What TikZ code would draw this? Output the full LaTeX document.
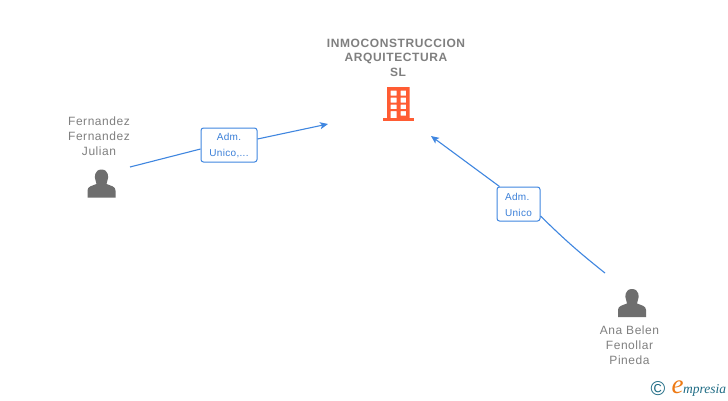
\documentclass[tikz,border=0pt]{standalone}
\usepackage{fontspec}
\setmainfont{Liberation Sans}
\newfontfamily\namefont[LetterSpace=4.5]{Liberation Sans}
\newfontfamily\titlefont[LetterSpace=5]{Liberation Sans Bold}
\newfontfamily\edgefont[LetterSpace=3]{Liberation Sans}
\newfontfamily\logofont{Liberation Serif Italic}
\usetikzlibrary{arrows.meta}
\definecolor{linkblue}{HTML}{3F86E0}
\definecolor{labelblue}{HTML}{3A7FD8}
\definecolor{namegray}{HTML}{808080}
\definecolor{titlegray}{HTML}{7F7F7F}
\definecolor{persongray}{HTML}{6E6E6E}
\definecolor{buildorange}{HTML}{FF5C33}
\definecolor{logoteal}{HTML}{1F6C85}
\definecolor{logoorange}{HTML}{EE7A14}
\tikzset{
  x=1pt,y=-1pt,
  personname/.style={text=namegray,align=center,font=\namefont\fontsize{12}{15.2}\selectfont,inner sep=0pt},
  companyname/.style={text=titlegray,align=center,font=\titlefont\fontsize{12}{14.5}\selectfont,inner sep=0pt},
  rolebox/.style={draw=linkblue,line width=1pt,rounded corners=2.5pt,fill=white,text=labelblue,font=\edgefont\fontsize{10}{16}\selectfont,inner sep=0pt},
  linkline/.style={draw=linkblue,line width=1.1pt},
  linkarrow/.style={linkline,-{Stealth[length=8pt,width=7pt,inset=2pt]}},
  personicon/.style={fill=persongray,draw=none},
  buildicon/.style={fill=buildorange,draw=none},
}
\newcommand{\personshape}[2]{%
  \begin{scope}[shift={(#1,#2)}]
    \fill[personicon] (-14,14) -- (-14,7) .. controls (-14,3) and (-10,2.5) .. (-5,0.5)
      .. controls (-5,-1) and (-5.5,-2) .. (-6,-3.5) .. controls (-7.5,-6) and (-7,-14) .. (0,-14)
      .. controls (7,-14) and (7.5,-6) .. (6,-3.5) .. controls (5.5,-2) and (5,-1) .. (5,0.5)
      .. controls (10,2.5) and (14,3) .. (14,7) -- (14,14) -- cycle;
  \end{scope}}
\begin{document}
\begin{tikzpicture}
\useasboundingbox[fill=white] (0,0) rectangle (728,400);

% company
\node[companyname] (company) at (396,57.5) {INMOCONSTRUCCION\\ARQUITECTURA\\\hspace*{4pt}SL};
\fill[buildicon,even odd rule] (387,87) rectangle (409.5,118)
  (390.5,90.5) rectangle (396.5,95.5) (400.5,90.5) rectangle (406,95.5)
  (390.5,97.5) rectangle (396.5,102.5) (400.5,97.5) rectangle (406,102.5)
  (390.5,104.5) rectangle (396.5,109) (400.5,104.5) rectangle (406,109)
  (390.5,111) rectangle (396.5,118) (400.5,111) rectangle (406,115.5);
\fill[buildicon] (382.5,118) rectangle (414,121);
\coordinate (companyW) at (328,124);
\coordinate (companyS) at (431,136);

% persons
\node[personname] (fernandez) at (99,136) {Fernandez\\Fernandez\\Julian};
\personshape{101.5}{183.5}
\coordinate (fernandezE) at (130,167);
\node[personname] (ana) at (629.5,345) {Ana Belen\\Fenollar\\Pineda};
\personshape{632}{303}
\coordinate (anaN) at (605,273);

% role labels
\node[rolebox,minimum width=56pt,minimum height=34pt] (role1) at (229,145) {};
\node[rolebox,minimum width=43pt,minimum height=34pt] (role2) at (518.5,204) {};
\node[text=labelblue,font=\edgefont\fontsize{10}{16}\selectfont,inner sep=0pt,align=center] (role1text) at (229,145.8) {Adm.\\Unico,...};
\node[text=labelblue,font=\edgefont\fontsize{10}{16}\selectfont,inner sep=0pt,align=left] (role2text) at (518.5,204.8) {Adm.\\Unico};

% connectors
\draw[linkline] (fernandezE) -- ([yshift=-4pt]role1.west);
\draw[linkarrow] ([yshift=6pt]role1.east) -- (companyW);
\draw[linkline] (anaN) to[bend left=3] ([yshift=-12pt]role2.east);
\draw[linkarrow] ([xshift=3pt]role2.north west) -- (companyS);

% logo
\node[inner sep=0pt,text=logoteal,font=\fontsize{20}{20}\selectfont] (copy) at (658,389) {©};
\node[inner sep=0pt,text=logoorange,font=\logofont\fontsize{27}{27}\selectfont] (logoe) at (677.5,387.5) {e};
\node[inner sep=0pt,anchor=west,text=logoteal,font=\logofont\fontsize{13.5}{13.5}\selectfont] (logotext) at (683,390) {mpresia};
\end{tikzpicture}
\end{document}
